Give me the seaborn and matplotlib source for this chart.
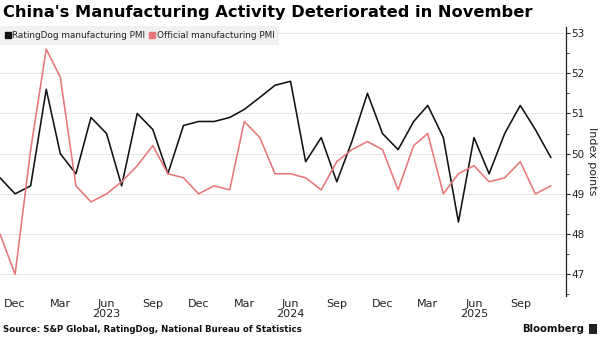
import matplotlib
matplotlib.use("Agg")
import matplotlib.pyplot as plt
from matplotlib.ticker import MultipleLocator
from matplotlib.lines import Line2D
import pandas as pd
import seaborn as sns

months = pd.date_range("2022-11-01", "2025-11-01", freq="MS")
ratingdog = [49.4, 49.0, 49.2, 51.6, 50.0, 49.5, 50.9, 50.5, 49.2, 51.0, 50.6, 49.5,
             50.7, 50.8, 50.8, 50.9, 51.1, 51.4, 51.7, 51.8, 49.8, 50.4, 49.3, 50.3,
             51.5, 50.5, 50.1, 50.8, 51.2, 50.4, 48.3, 50.4, 49.5, 50.5, 51.2, 50.6, 49.9]
official = [48.0, 47.0, 50.1, 52.6, 51.9, 49.2, 48.8, 49.0, 49.3, 49.7, 50.2, 49.5,
            49.4, 49.0, 49.2, 49.1, 50.8, 50.4, 49.5, 49.5, 49.4, 49.1, 49.8, 50.1,
            50.3, 50.1, 49.1, 50.2, 50.5, 49.0, 49.5, 49.7, 49.3, 49.4, 49.8, 49.0, 49.2]
series_names = ["RatingDog manufacturing PMI", "Official manufacturing PMI"]
tick_dates = pd.date_range("2022-12-01", "2025-09-01", freq="3MS")
tick_labels = ["Dec", "Mar", "Jun\n2023", "Sep", "Dec", "Mar", "Jun\n2024", "Sep",
               "Dec", "Mar", "Jun\n2025", "Sep"]
y_ticks = [47, 48, 49, 50, 51, 52, 53]

df = pd.DataFrame({
    "month": list(months) * 2,
    "value": ratingdog + official,
    "series": [series_names[0]] * len(months) + [series_names[1]] * len(months),
})

sns.set_style("white")
plt.rcParams["font.family"] = ["DejaVu Sans"]

colors = {series_names[0]: "#111111", series_names[1]: "#e8767a"}

fig = plt.figure(figsize=(6, 3.37), dpi=100)
ax = fig.add_axes([0.0, 1 - 296 / 337, 566 / 600, (296 - 27) / 337])

sns.lineplot(data=df, x="month", y="value", hue="series", palette=colors,
             linewidth=1.15, ax=ax, legend=False)

ax.set_xlim(pd.Timestamp("2022-11-01"), pd.Timestamp("2025-12-01"))
ax.set_ylim(46.46, 53.15)

ax.yaxis.tick_right()
ax.set_yticks(y_ticks)
ax.set_yticklabels([str(v) for v in y_ticks])
ax.yaxis.set_minor_locator(MultipleLocator(0.5))
ax.tick_params(axis="y", which="major", direction="out", length=3, width=0.8,
               color="#222222", labelsize=7.5, labelcolor="#222222", pad=1)
ax.tick_params(axis="y", which="minor", direction="out", length=2, width=0.6, color="#222222")
ax.set_ylabel("")
fig.text(592 / 600, 1 - 161 / 337, "Index points", rotation=270, fontsize=8,
         color="#222222", ha="center", va="center")

ax.set_xticks(tick_dates)
ax.set_xticklabels(tick_labels)
ax.tick_params(axis="x", length=0, labelsize=8, labelcolor="#222222", pad=2)
for lab in ax.get_xticklabels():
    lab.set_linespacing(1.05)
ax.set_xlabel("")

for s in ["top", "left", "bottom"]:
    ax.spines[s].set_visible(False)
ax.spines["right"].set_color("#222222")
ax.spines["right"].set_linewidth(0.9)

ax.grid(axis="y", color="#cccccc", linestyle=(0, (1, 1)), linewidth=0.7)
ax.grid(axis="x", visible=False)

handles = [Line2D([0], [0], marker="s", linestyle="none", markersize=5,
                  markerfacecolor=colors[n], markeredgecolor=colors[n]) for n in series_names]
leg = fig.legend(handles, series_names, loc="upper left", bbox_to_anchor=(0.0, 1 - 26 / 337),
                 ncol=2, frameon=True, fontsize=6.4, handlelength=0.6, handletextpad=0.2,
                 columnspacing=0.5, borderpad=0.55, borderaxespad=0.0)
leg.get_frame().set_facecolor("#eeeeee")
leg.get_frame().set_edgecolor("none")
leg.get_frame().set_boxstyle("square", pad=0)
for t in leg.get_texts():
    t.set_color("#222222")

fig.text(3 / 600, 1 - 13 / 337, "China's Manufacturing Activity Deteriorated in November",
         fontsize=11.7, fontweight="bold", color="#000000", va="center", ha="left")
fig.text(3 / 600, 1 - 330 / 337, "Source: S&P Global, RatingDog, National Bureau of Statistics",
         fontsize=6.2, fontweight="bold", color="#111111", va="center", ha="left")
fig.text(584 / 600, 1 - 329 / 337, "Bloomberg", fontsize=7.3, fontweight="bold",
         color="#111111", va="center", ha="right")
fig.patches.append(plt.Rectangle((589 / 600, 1 - 334 / 337), 8 / 600, 10 / 337,
                                 transform=fig.transFigure, facecolor="#222222",
                                 edgecolor="none"))

fig.savefig("out.png", dpi=100)
